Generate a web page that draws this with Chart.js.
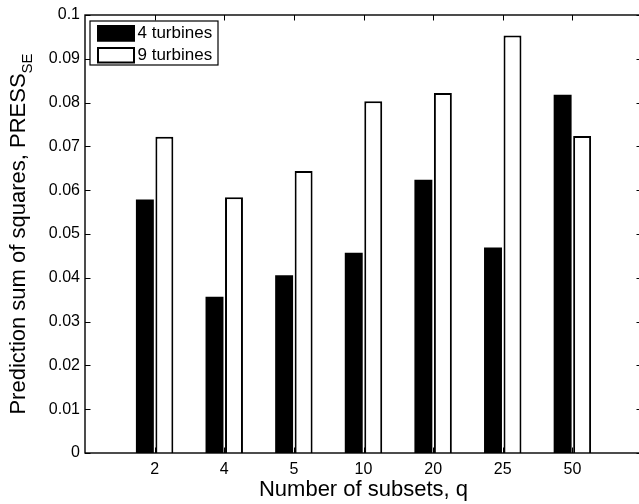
<!DOCTYPE html>
<html>
<head>
<meta charset="utf-8">
<script src="https://cdn.jsdelivr.net/npm/chart.js@4.4.1/dist/chart.umd.min.js"></script>
<style>
html, body { margin: 0; padding: 0; background: #fff; overflow: hidden; }
#wrap { position: absolute; left: 0; top: 0; width: 645px; height: 504px; }
</style>
</head>
<body>
<div id="wrap"><canvas id="pressCanvas" width="645" height="504"></canvas></div>
<script>
// prediction sum of squares per number of subsets
var categories = ['2', '4', '5', '10', '20', '25', '50'];
var seriesNames = ['4 turbines', '9 turbines'];
var turbines4 = [0.0579, 0.0357, 0.0406, 0.0457, 0.0624, 0.0469, 0.0818];
var turbines9 = [0.0722, 0.0584, 0.0644, 0.0803, 0.0822, 0.0953, 0.0724];
var yTicks = [0, 0.01, 0.02, 0.03, 0.04, 0.05, 0.06, 0.07, 0.08, 0.09, 0.1];
var yTickLabels = ['0', '0.01', '0.02', '0.03', '0.04', '0.05', '0.06', '0.07', '0.08', '0.09', '0.1'];
var xTitle = 'Number of subsets, q';
var yTitle = 'Prediction sum of squares, PRESS';
var yTitleSub = 'SE';

var fontFamily = '"Liberation Sans", Arial, Helvetica, sans-serif';
Chart.defaults.font.family = fontFamily;
Chart.defaults.color = '#000';

function toPoints(values) {
    return values.map(function (v, i) { return { x: i + 1, y: v }; });
}

// matlab style box, inward ticks, legend and y label
var matlabAxes = {
    id: 'matlabAxes',
    afterDraw: function (chart) {
        var ctx = chart.ctx;
        var area = chart.chartArea;
        var xs = chart.scales.x, ys = chart.scales.y;
        var tl = 5.5;
        ctx.save();
        ctx.strokeStyle = '#000';
        ctx.lineWidth = 1;
        ctx.beginPath();
        yTicks.forEach(function (v) {
            var py = Math.round(ys.getPixelForValue(v)) + 0.5;
            ctx.moveTo(area.left, py); ctx.lineTo(area.left + tl, py);
            ctx.moveTo(area.right, py); ctx.lineTo(area.right - tl, py);
        });
        categories.forEach(function (c, i) {
            var px = Math.round(xs.getPixelForValue(i + 1)) + 0.5;
            ctx.moveTo(px, area.top); ctx.lineTo(px, area.top + tl);
            ctx.moveTo(px, area.bottom); ctx.lineTo(px, area.bottom - tl);
        });
        ctx.stroke();
        ctx.lineWidth = 1.4;
        ctx.strokeRect(area.left, area.top, area.right - area.left, area.bottom - area.top);

        // legend
        var lx = 90, ly = 21, lw = 128, lh = 44;
        ctx.fillStyle = '#fff';
        ctx.fillRect(lx, ly, lw, lh);
        ctx.lineWidth = 1.2;
        ctx.strokeRect(lx, ly, lw, lh);
        ctx.font = '17px ' + fontFamily;
        ctx.textBaseline = 'middle';
        chart.data.datasets.forEach(function (ds, i) {
            var sy = ly + 4 + i * 22;
            ctx.fillStyle = ds.backgroundColor;
            ctx.fillRect(97, sy, 38, 16.5);
            ctx.lineWidth = 2;
            ctx.strokeStyle = '#000';
            ctx.strokeRect(98, sy + 1, 36, 14.5);
            ctx.fillStyle = '#000';
            ctx.fillText(ds.label, 137.5, sy + 8.5);
        });

        // y label with subscript
        ctx.translate(25, (area.top + area.bottom) / 2);
        ctx.rotate(-Math.PI / 2);
        ctx.textBaseline = 'alphabetic';
        ctx.font = '22px ' + fontFamily;
        var wMain = ctx.measureText(yTitle).width;
        ctx.font = '15px ' + fontFamily;
        var wSub = ctx.measureText(yTitleSub).width;
        var x0 = -(wMain + wSub) / 2;
        ctx.fillStyle = '#000';
        ctx.font = '22px ' + fontFamily;
        ctx.fillText(yTitle, x0, 0);
        ctx.font = '15px ' + fontFamily;
        ctx.fillText(yTitleSub, x0 + wMain, 7);
        ctx.restore();
    }
};

var ctx = document.getElementById('pressCanvas').getContext('2d');
var chart = new Chart(ctx, {
    type: 'bar',
    data: {
        datasets: [{
            label: seriesNames[0],
            data: toPoints(turbines4),
            backgroundColor: '#000',
            borderColor: '#000',
            borderWidth: 0
        }, {
            label: seriesNames[1],
            data: toPoints(turbines9),
            backgroundColor: '#fff',
            borderColor: '#000',
            borderWidth: 2
        }]
    },
    options: {
        responsive: false,
        animation: false,
        devicePixelRatio: 1,
        layout: { padding: { left: 0, top: 15, right: 3, bottom: 0 } },
        datasets: { bar: { categoryPercentage: 0.56, barPercentage: 0.92 } },
        plugins: { legend: { display: false }, tooltip: { enabled: false } },
        scales: {
            x: {
                type: 'linear',
                min: 0,
                max: 8,
                offset: false,
                grid: { display: false, drawTicks: false },
                border: { display: false },
                afterBuildTicks: function (scale) {
                    scale.ticks = categories.map(function (c, i) { return { value: i + 1 }; });
                },
                afterFit: function (scale) { scale.height = 51; },
                ticks: {
                    font: { size: 16 },
                    padding: 7,
                    maxRotation: 0,
                    autoSkip: false,
                    callback: function (value, index) { return categories[index]; }
                },
                title: {
                    display: true,
                    text: xTitle,
                    font: { size: 22 },
                    padding: { top: 0, bottom: 1 }
                }
            },
            y: {
                min: 0,
                max: 0.1,
                grid: { display: false, drawTicks: false },
                border: { display: false },
                afterBuildTicks: function (scale) {
                    scale.ticks = yTicks.map(function (v) { return { value: v }; });
                },
                afterFit: function (scale) { scale.width = 85; },
                ticks: {
                    font: { size: 16 },
                    padding: 5,
                    callback: function (value, index) { return yTickLabels[index]; }
                }
            }
        }
    },
    plugins: [matlabAxes]
});
</script>
</body>
</html>
